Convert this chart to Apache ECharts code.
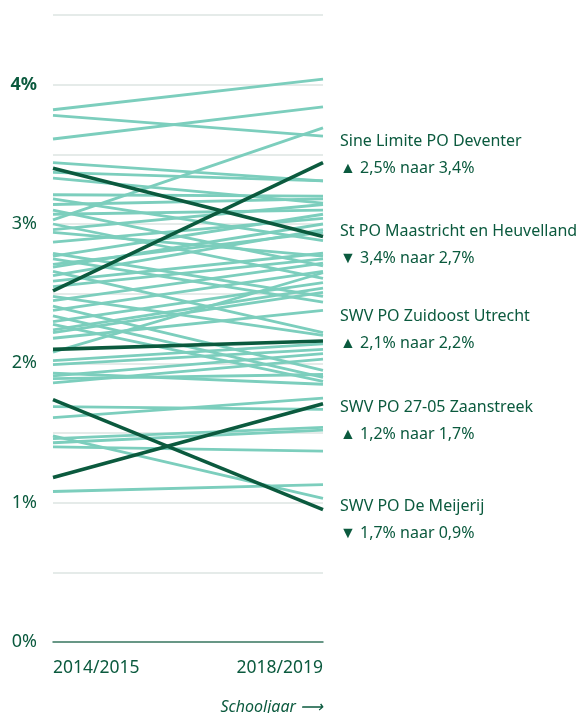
<!DOCTYPE html>
<html>
<head>
<meta charset="utf-8">
<script src="https://cdn.jsdelivr.net/npm/echarts@6/dist/echarts.min.js"></script>
<style>
  html, body { margin: 0; padding: 0; background: #fff; }
  #chart { width: 584px; height: 713px; }
</style>
</head>
<body>
<div id="chart"></div>
<script>
const years = ['2014/2015', '2018/2019'];

// all other samenwerkingsverbanden (percentage, start / end)
const restStart = [3.82, 3.78, 3.61, 3.44, 3.37, 3.33, 3.21, 3.03, 3.18, 3.14, 3.10, 3.07, 3.00, 2.96, 2.94, 2.87, 2.79, 2.77, 2.75, 2.71, 2.69, 2.66, 2.63, 2.59, 2.55, 2.48, 2.45, 2.41, 2.38, 2.34, 2.30, 2.28, 2.24, 2.22, 2.18, 2.08, 2.02, 1.99, 1.93, 1.91, 1.89, 1.86, 1.69, 1.61, 1.48, 1.46, 1.43, 1.40, 1.08];
const restEnd = [4.04, 3.63, 3.84, 3.31, 3.31, 3.15, 3.20, 3.69, 2.88, 3.18, 2.70, 3.10, 2.61, 3.14, 2.77, 3.04, 2.48, 3.07, 2.44, 2.94, 3.00, 2.22, 2.96, 2.79, 2.75, 2.20, 2.72, 1.95, 2.66, 1.90, 2.58, 1.87, 2.54, 2.51, 2.38, 2.65, 2.14, 2.10, 1.85, 2.07, 1.92, 2.03, 1.67, 1.75, 1.03, 1.54, 1.52, 1.37, 1.13];

// highlighted ones
const hlNames = ['Sine Limite PO Deventer', 'St PO Maastricht en Heuvelland', 'SWV PO Zuidoost Utrecht', 'SWV PO 27-05 Zaanstreek', 'SWV PO De Meijerij'];
const hlNotes = ['▲ 2,5% naar 3,4%', '▼ 3,4% naar 2,7%', '▲ 2,1% naar 2,2%', '▲ 1,2% naar 1,7%', '▼ 1,7% naar 0,9%'];
const hlStart = [2.52, 3.40, 2.10, 1.18, 1.74];
const hlEnd = [3.44, 2.91, 2.16, 1.71, 0.95];

const yTicks = [0, 1, 2, 3, 4];

const green = '#0b5a3e';
const light = '#7ccebd';
const labelShift = [-8, 8, -11, 17, 10];

const chart = echarts.init(document.getElementById('chart'));

let series = [];
for (let i = 0; i < restStart.length; i++) {
  series.push({
    type: 'line',
    data: [restStart[i], restEnd[i]],
    symbol: 'none',
    silent: true,
    z: 2,
    lineStyle: { color: light, width: 2.8 }
  });
}
for (let i = 0; i < hlNames.length; i++) {
  series.push({
    type: 'line',
    name: hlNames[i],
    data: [hlStart[i], hlEnd[i]],
    symbol: 'none',
    silent: true,
    z: 3,
    lineStyle: { color: green, width: 3.6 },
    endLabel: {
      show: true,
      distance: 17,
      offset: [0, labelShift[i]],
      formatter: '{n|' + hlNames[i] + '}\n{n|' + hlNotes[i] + '}',
      rich: {
        n: { fontFamily: 'Noto Sans', fontSize: 16, color: green, lineHeight: 27 }
      }
    }
  });
}

chart.setOption({
  animation: false,
  grid: { left: 53, right: 261, top: 15, bottom: 71 },
  xAxis: {
    type: 'category',
    data: years,
    boundaryGap: false,
    axisTick: { show: false },
    axisLine: { lineStyle: { color: '#3f7c66', width: 1.5 } },
    axisLabel: {
      color: green,
      fontFamily: 'Noto Sans',
      fontSize: 17.5,
      margin: 17,
      alignMinLabel: 'left',
      alignMaxLabel: 'right'
    }
  },
  yAxis: {
    type: 'value',
    min: 0,
    max: 4.5,
    interval: 0.5,
    axisLine: { show: false },
    axisTick: { show: false },
    splitLine: { lineStyle: { color: '#e5ebe9', width: 2 } },
    axisLabel: {
      margin: 16,
      color: green,
      fontFamily: 'Noto Sans',
      fontSize: 18,
      formatter: v => yTicks.indexOf(v) < 0 ? '' : (v === 4 ? '{b|' + v + '%}' : v + '%'),
      rich: { b: { fontFamily: 'Noto Sans', fontSize: 18, fontWeight: 'bold', color: green } }
    }
  },
  graphic: [{
    type: 'text',
    right: 261,
    top: 699,
    style: {
      text: 'Schooljaar ⟶',
      fill: green,
      font: 'italic 16px "Noto Sans"'
    }
  }],
  series: series
});
</script>
</body>
</html>
